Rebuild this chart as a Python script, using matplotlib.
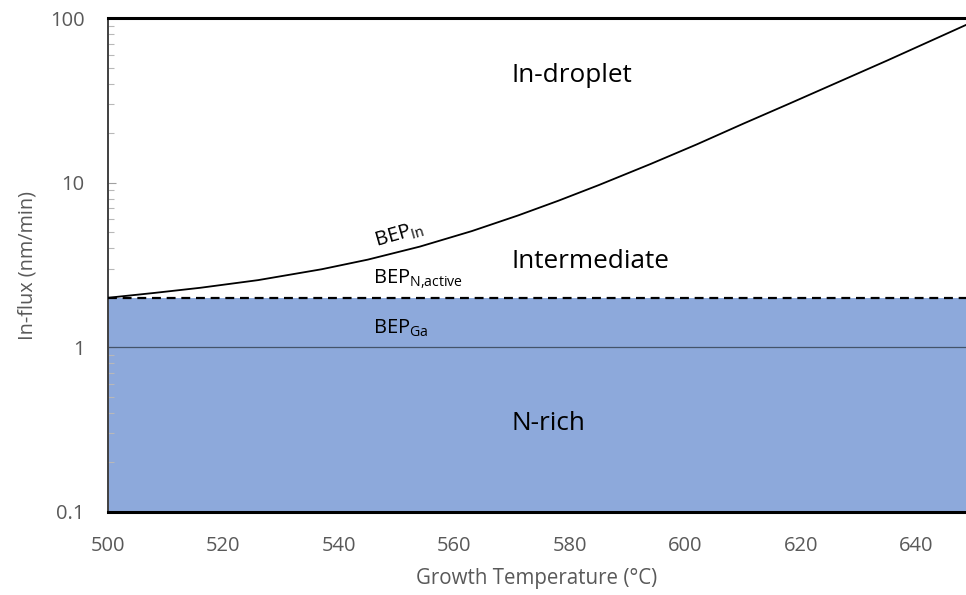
import matplotlib
matplotlib.use("Agg")
import matplotlib.pyplot as plt

# === Fonts ===
plt.rcParams['font.family'] = ['Open Sans', 'DejaVu Sans']
plt.rcParams['mathtext.default'] = 'regular'

# === Data ===
temp = [500, 508, 516, 526, 537, 545, 554, 563, 571, 578, 585, 594, 602, 610, 618, 635, 648.6]
bep_in = [2.0, 2.14, 2.30, 2.56, 2.98, 3.41, 4.09, 5.08, 6.32, 7.77, 9.67, 13.0, 17.1, 22.8, 30.2, 55.3, 90.8]
bep_n_active = 2.0
bep_ga = 1.0
x_ticks = [500, 520, 540, 560, 580, 600, 620, 640]
y_ticks = [0.1, 1, 10, 100]
y_tick_labels = ["0.1", "1", "10", "100"]

# === Colours ===
fill_color = "#8DA9DB"
gray_text = "#595959"

fig = plt.figure(figsize=(9.66, 5.95), dpi=100)
ax = fig.add_axes([0.1118, 0.1395, 0.8882, 0.8302])

ax.set_yscale("log")
ax.set_xlim(500, 648.6)
ax.set_ylim(0.1, 100)

# N-rich region
ax.fill_between([500, 648.6], 0.1, bep_n_active, color=fill_color, lw=0, zorder=1)
ax.axhline(bep_ga, color="#44546A", lw=0.9, zorder=2)
ax.axhline(bep_n_active, color="black", lw=1.6, ls=(0, (4, 2.6)), zorder=3)
ax.plot(temp, bep_in, color="black", lw=1.3, zorder=4)

# === Spines ===
for side in ["top", "bottom"]:
    ax.spines[side].set_linewidth(2.2)
    ax.spines[side].set_color("black")
ax.spines["left"].set_linewidth(1.4)
ax.spines["left"].set_color("#404040")
ax.spines["right"].set_visible(False)

# === Ticks ===
ax.set_xticks(x_ticks)
ax.set_yticks(y_ticks)
ax.set_yticklabels(y_tick_labels)
ax.tick_params(axis="x", length=0, pad=17, labelsize=14.5, labelcolor=gray_text)
ax.tick_params(axis="y", which="major", direction="in", length=6, width=0.8,
               color="#A0A0A0", pad=17, labelsize=14.5, labelcolor=gray_text)
ax.tick_params(axis="y", which="minor", direction="in", length=4, width=0.8,
               color="#B8B8B8")

ax.set_xlabel("Growth Temperature (°C)", fontsize=14.8, color=gray_text, labelpad=9)
ax.set_ylabel("In-flux (nm/min)", fontsize=14.3, color=gray_text, labelpad=9)

# === Region labels ===
fig.text(511 / 966, 1 - 75 / 595, "In-droplet", fontsize=18.8, ha="left", va="center")
fig.text(511 / 966, 1 - 262 / 595, "Intermediate", fontsize=18.8, ha="left", va="center")
fig.text(511 / 966, 1 - 423 / 595, "N-rich", fontsize=18.8, ha="left", va="center")

# === Line labels ===
fig.text(372 / 966, 1 - 235 / 595, r"BEP$_{In}$", fontsize=14.5, ha="left", va="center", rotation=16)
fig.text(373 / 966, 1 - 279 / 595, r"BEP$_{N{,}active}$", fontsize=14.5, ha="left", va="center")
fig.text(373 / 966, 1 - 328 / 595, r"BEP$_{Ga}$", fontsize=14.5, ha="left", va="center")

fig.savefig("out.png", dpi=100)
